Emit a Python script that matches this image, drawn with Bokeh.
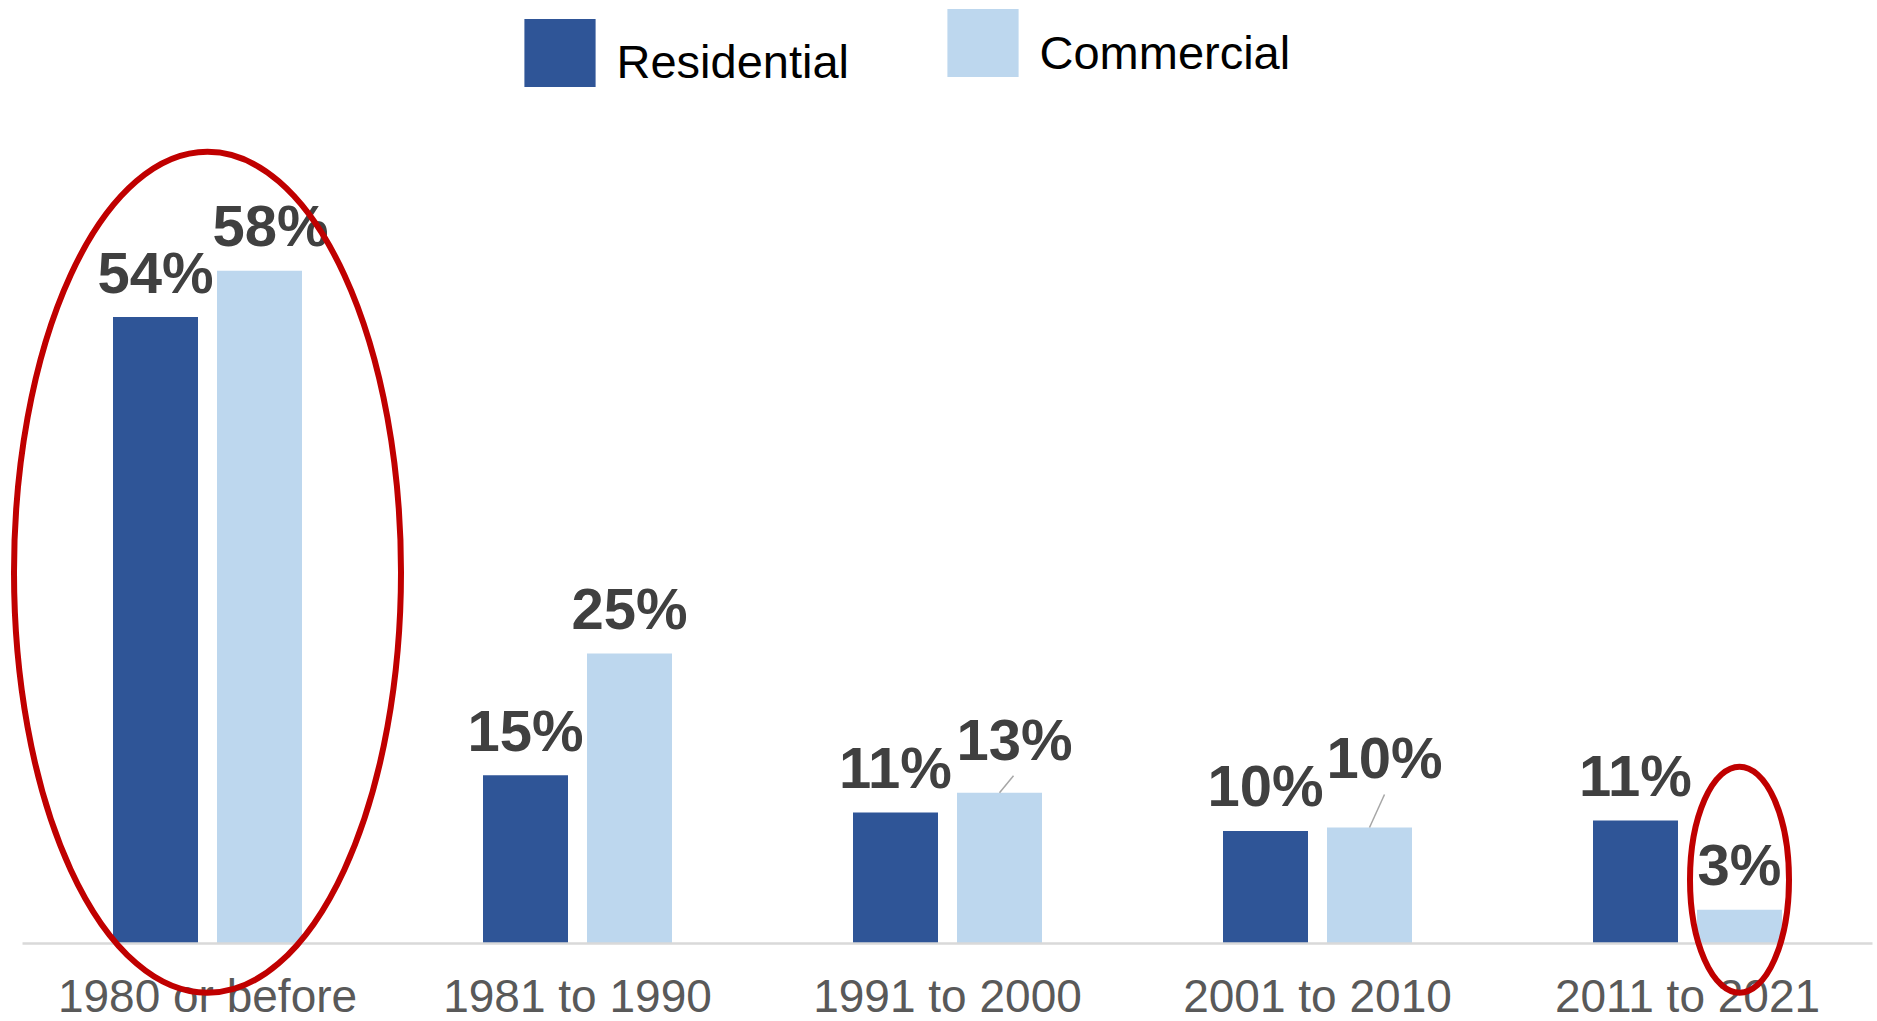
from bokeh.plotting import figure
from bokeh.models import Range1d, Legend, LegendItem, ColumnDataSource, Label
from bokeh.transform import dodge
from bokeh.core.properties import value
from bokeh.embed import file_html
from bokeh.resources import INLINE

# ---------------- data ----------------
categories = ["1980 or before", "1981 to 1990", "1991 to 2000", "2001 to 2010", "2011 to 2021"]
residential = [54, 14.5, 11.3, 9.7, 10.6]
commercial = [58, 25, 13, 10, 2.9]
residential_labels = ["54%", "15%", "11%", "10%", "11%"]
commercial_labels = ["58%", "25%", "13%", "10%", "3%"]
series_names = ["Residential", "Commercial"]

# highlighted bars (category index, series) with ellipse centre height (in %)
highlight_cat = [0, 4]
highlight_offset_side = [0, 1]      # 0 = whole group, 1 = commercial bar
highlight_y = [32.0, 5.5]

# ---------------- layout / style ----------------
W, H = 1877, 1021
GROUP_PX = 370.0          # pixels per category
PCT_PX = 11.6             # pixels per percentage point
BASE_Y = 943              # baseline, px from top of figure
FIRST_X = 207             # first group centre, px from left
BAR_W = 85 / GROUP_PX
DODGE = 52 / GROUP_PX

RES_COLOR = "#2F5597"
COM_COLOR = "#BDD7EE"
VAL_COLOR = "#404040"
CAT_COLOR = "#595959"
RED = "#C00000"
FONT = "Liberation Sans"

TXT_SHIFT = 21            # renderer's baseline correction (px)
res_dx = [0, 0, 0, 0, 0]
res_dy = [-24 - TXT_SHIFT] * 5
com_dx = [11, 0, 15, 15, 0]
com_dy = [d - TXT_SHIFT for d in [-24, -24, -32, -49, -24]]
leader_idx = [2, 3]
leader_dx = [14, 15]
leader_dy = [17, 33]
ellipse_w = [387, 99]
ellipse_h = [841, 226]

x_start = -FIRST_X / GROUP_PX
x_end = x_start + W / GROUP_PX
y_start = -(H - BASE_Y) / PCT_PX
y_end = BASE_Y / PCT_PX

p = figure(width=W, height=H, output_backend="svg", toolbar_location=None,
           x_range=Range1d(x_start, x_end), y_range=Range1d(y_start, y_end),
           x_axis_type=None, y_axis_type=None, min_border=0,
           outline_line_color=None, background_fill_color="white",
           border_fill_color="white")
p.xgrid.visible = False
p.ygrid.visible = False

idx = list(range(len(categories)))
src = ColumnDataSource(dict(
    idx=idx, cat=categories, res=residential, com=commercial,
    res_lab=residential_labels, com_lab=commercial_labels,
    res_dx=res_dx, res_dy=res_dy, com_dx=com_dx, com_dy=com_dy,
))

r_res = p.vbar(x=dodge("idx", -DODGE, range=p.x_range), top="res", bottom=0,
               width=BAR_W, source=src, fill_color=RES_COLOR, line_color=None)
r_com = p.vbar(x=dodge("idx", DODGE, range=p.x_range), top="com", bottom=0,
               width=BAR_W, source=src, fill_color=COM_COLOR, line_color=None)

# baseline (category axis line)
p.segment(x0=[idx[0] - 0.5], x1=[idx[-1] + 0.5], y0=[0], y1=[0],
          line_color="#D9D9D9", line_width=2.5)

# leader lines for moved labels
lx0 = [i + DODGE for i in leader_idx]
ly0 = [commercial[i] for i in leader_idx]
lx1 = [x + dx / GROUP_PX for x, dx in zip(lx0, leader_dx)]
ly1 = [y + dy / PCT_PX for y, dy in zip(ly0, leader_dy)]
p.segment(x0=lx0, y0=ly0, x1=lx1, y1=ly1, line_color="#A6A6A6", line_width=1.5)

# value labels
common = dict(text_font=value(FONT), text_font_size="58px", text_font_style="bold",
              text_color=VAL_COLOR, text_align="center", text_baseline="alphabetic")
p.text(x=dodge("idx", -DODGE, range=p.x_range), y="res", text="res_lab",
       x_offset="res_dx", y_offset="res_dy", source=src, **common)
p.text(x=dodge("idx", DODGE, range=p.x_range), y="com", text="com_lab",
       x_offset="com_dx", y_offset="com_dy", source=src, **common)

# category labels
p.text(x="idx", y=0, text="cat", source=src, y_offset=52,
       text_font=value(FONT), text_font_size="46px", text_color=CAT_COLOR,
       text_align="center", text_baseline="alphabetic")

# highlight ellipses
ex = [c + (DODGE if s == 1 else 0) for c, s in zip(highlight_cat, highlight_offset_side)]
p.ellipse(x=ex, y=highlight_y, width=ellipse_w, height=ellipse_h,
          width_units="screen", height_units="screen",
          fill_alpha=0, line_color=RED, line_width=6)

# legend: swatches via Legend, names as screen-positioned labels
def swatch(renderer, loc):
    return Legend(items=[LegendItem(label=value(" "), renderers=[renderer])],
                  location=loc, orientation="horizontal",
                  glyph_width=89, glyph_height=85, label_standoff=0,
                  label_width=1, label_height=20, label_text_font_size="10px",
                  padding=0, margin=0, spacing=0,
                  border_line_color=None, background_fill_alpha=0)

p.add_layout(swatch(r_res, (515, H - 94.5)))
p.add_layout(swatch(r_com, (938, H - 84.5)))

legend_text_x = [616, 1039]
legend_text_y = [H - 60.5, H - 51.5]
for name, lx, ly in zip(series_names, legend_text_x, legend_text_y):
    p.add_layout(Label(x=lx, y=ly, x_units="screen", y_units="screen", text=name,
                       text_font=FONT, text_font_size="47px", text_color="black",
                       text_baseline="middle", text_align="left"))

open("out.html", "w").write(file_html(p, INLINE))
